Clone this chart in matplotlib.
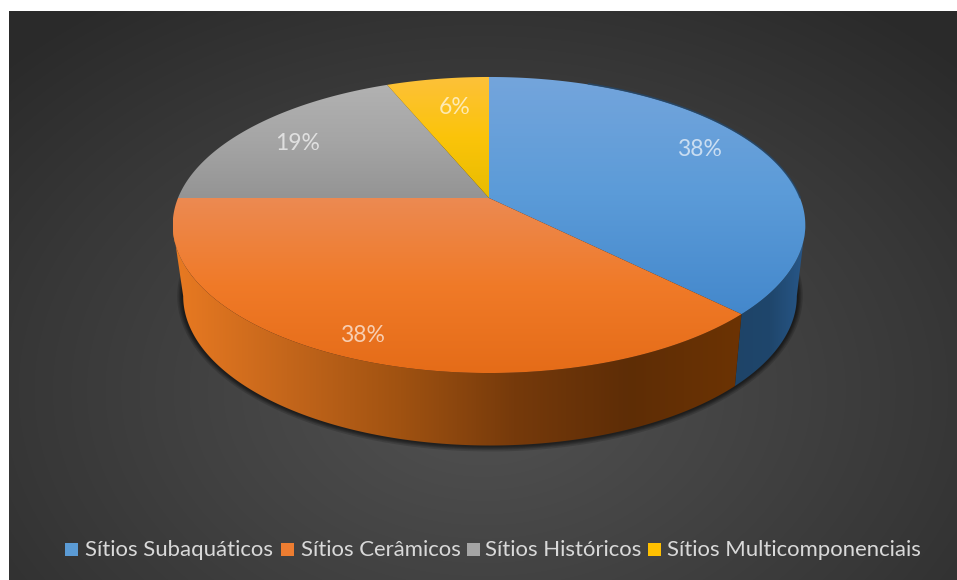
import numpy as np
import matplotlib
matplotlib.use("Agg")
import matplotlib.pyplot as plt
from matplotlib.colors import LinearSegmentedColormap
from matplotlib.patches import Polygon, Rectangle

categories = ["Sítios Subaquáticos", "Sítios Cerâmicos", "Sítios Históricos", "Sítios Multicomponenciais"]
site_counts = [6, 6, 3, 1]

legend_colors = ["#5B9BD5", "#ED7D31", "#A5A5A5", "#FFC000"]
top_gradients = [
    ["#74a5dc", "#5b9bd8", "#4488cc"],
    ["#ec8a52", "#f07a28", "#e56c18"],
    ["#b2b2b2", "#a5a5a5", "#949494"],
    ["#fdc13a", "#fbc40a", "#e8bc00"],
]
wall_gradients = {
    0: ["#1e4468", "#1f466c", "#28588a"],
    1: ["#e97a22", "#c4661b", "#a05211", "#763a0b", "#5e2d06", "#6c3303"],
}

# pie geometry in pixels, the top face is a circle seen in perspective
CX, CY = 489.0, 198.0
RX, RY = 311.0, 143.1
PERSP = -0.1824


def top_rim(theta):
    u, v = np.sin(theta), -np.cos(theta)
    w = 1 + PERSP * v
    return CX + RX * u / w, CY + RY * v / w


def bottom_rim(theta):
    x, y = top_rim(theta)
    return 490 + 0.97 * (x - CX), 296 + 1.01 * (y - 225)


def fill_gradient(ax, patch, stops, vertical, zorder):
    ax.add_patch(patch)
    patch.set_facecolor("none")
    patch.set_edgecolor("none")
    patch.set_zorder(zorder)
    x0, y0 = patch.get_xy().min(axis=0)
    x1, y1 = patch.get_xy().max(axis=0)
    ramp = np.linspace(0, 1, 256)
    ramp = ramp[:, None] if vertical else ramp[None, :]
    cmap = LinearSegmentedColormap.from_list("g", stops)
    im = ax.imshow(ramp, cmap=cmap, extent=(x0, x1, y1, y0), aspect="auto",
                   vmin=0, vmax=1, zorder=zorder, interpolation="bilinear")
    im.set_clip_path(patch)


fig = plt.figure(figsize=(9.57, 5.8), dpi=100, facecolor="white")
ax = fig.add_axes([0, 0, 1, 1])
ax.axis("off")

# dark panel with a soft radial glow
yy, xx = np.mgrid[11:580, 9:957]
r = np.hypot((xx - 483) / 560, (yy - 390) / 400)
glow = np.clip(r, 0, 1.2) / 1.2
bg = LinearSegmentedColormap.from_list("bg", ["#525252", "#454545", "#383838", "#2a2a2a"])
ax.imshow(glow, cmap=bg, vmin=0, vmax=1, extent=(9, 957, 580, 11), aspect="auto", zorder=0)

fractions = np.array(site_counts) / sum(site_counts)
edges = np.concatenate([[0], np.cumsum(fractions)]) * 2 * np.pi

# contact shadow under the disc
t = np.linspace(0, 2 * np.pi, 400)
bx, by = bottom_rim(t)
for d in [6, 4.5, 3.5, 2.5, 1.5]:
    sx = 490 + (bx - 490) * (1 + d / 310)
    sy = 296 + (by - 296) * (1 + d / 150)
    ax.fill(sx, sy, color="black", alpha=0.15, lw=0, zorder=1)

# side walls run between the left and right silhouette points of the rim
sweep = np.linspace(0, 2 * np.pi, 1440)
sweep_x = top_rim(sweep)[0]
right_extreme, left_extreme = sweep[np.argmax(sweep_x)], sweep[np.argmin(sweep_x)]
wall_spans = {0: (right_extreme, edges[1]), 1: (edges[1], left_extreme)}
for i, (a0, a1) in wall_spans.items():
    t = np.linspace(a0, a1, 200)
    tx, ty = top_rim(t)
    lx, ly = bottom_rim(t)
    pts = np.column_stack([np.r_[tx, lx[::-1]], np.r_[ty, ly[::-1]]])
    fill_gradient(ax, Polygon(pts, closed=True), wall_gradients[i], False, 2)

# top faces
for i in range(len(site_counts)):
    t = np.linspace(edges[i], edges[i + 1], 200)
    tx, ty = top_rim(t)
    pts = np.column_stack([np.r_[CX, tx], np.r_[CY, ty]])
    fill_gradient(ax, Polygon(pts, closed=True), top_gradients[i], True, 3)

# thin dark edge along the back of the blue slice
t = np.radians(np.linspace(22, 90, 80))
tx, ty = top_rim(t)
ax.plot(tx, ty - 0.6, color="#24486b", lw=1.2, alpha=0.8, zorder=4)

# percent labels
label_pos = [(699, 150), (362, 335.5), (298, 143), (455, 107)]
for (lx, ly), frac in zip(label_pos, fractions):
    ax.text(lx, ly, f"{round(frac * 100)}%", color="white", alpha=0.66, fontsize=16.5,
            family="Lato", ha="center", va="center", zorder=5)

# legend
swatch_x = [65, 281, 467, 648]
text_x = [85, 301, 485, 667]
for name, color, sx, tx in zip(categories, legend_colors, swatch_x, text_x):
    ax.add_patch(Rectangle((sx, 543), 13, 13, facecolor=color, edgecolor="none", zorder=5))
    ax.text(tx, 556, name, color="#d9d9d9", fontsize=15.9, family="Lato",
            ha="left", va="baseline", zorder=5)

ax.set_xlim(0, 957)
ax.set_ylim(580, 0)
fig.savefig("out.png", dpi=100, facecolor="white")
